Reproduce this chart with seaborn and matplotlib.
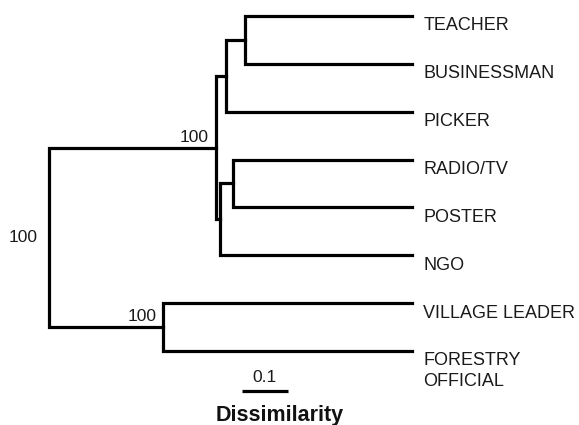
import matplotlib
matplotlib.use("Agg")
import matplotlib.pyplot as plt
import pandas as pd
import seaborn as sns

# Leaves in display order (top to bottom)
leaves = ["TEACHER", "BUSINESSMAN", "PICKER", "RADIO/TV", "POSTER", "NGO",
          "VILLAGE LEADER", "FORESTRY\nOFFICIAL"]

# Agglomeration steps: (node name, left child, right child, dissimilarity)
merge_names = ["TB", "TBP", "RP", "RPN", "ADOPT", "VF", "ROOT"]
merge_left = ["TEACHER", "TB", "RADIO/TV", "RP", "TBP", "VILLAGE LEADER", "ADOPT"]
merge_right = ["BUSINESSMAN", "PICKER", "POSTER", "NGO", "RPN", "FORESTRY\nOFFICIAL", "VF"]
merge_height = [0.363, 0.404, 0.389, 0.417, 0.426, 0.541, 0.789]

# Bootstrap support shown at selected nodes
support_nodes = ["ADOPT", "VF", "ROOT"]
support_values = [100, 100, 100]

scale_length = 0.1

sns.set_theme(style="white")
plt.rcParams["font.family"] = ["Liberation Sans", "DejaVu Sans"]

# Node positions: leaves sit at height 0, internal nodes at the mean y of children
pos = {name: (0.0, float(i)) for i, name in enumerate(leaves)}
rows = []
for name, l, r, h in zip(merge_names, merge_left, merge_right, merge_height):
    (hl, yl), (hr, yr) = pos[l], pos[r]
    for k, (x, y) in enumerate([(hl, yl), (h, yl), (h, yr), (hr, yr)]):
        rows.append({"link": name, "order": k, "x": x, "y": y})
    pos[name] = (h, (yl + yr) / 2)
links = pd.DataFrame(rows)

fig = plt.figure(figsize=(5.79, 4.25), dpi=100)
ax = fig.add_axes([0, 0, 1, 1])
sns.lineplot(data=links, x="x", y="y", units="link", estimator=None, sort=False,
             color="black", linewidth=2.3, ax=ax, legend=False)
for line in ax.lines:
    line.set_solid_joinstyle("miter")
    line.set_solid_capstyle("projecting")

ax.set_xlim(0.8957, -0.363)
ax.set_ylim(8.546, -0.334)
ax.set_axis_off()

# Leaf labels
for name in leaves:
    x, y = pos[name]
    ax.annotate(name, xy=(x, y), xytext=(8, -1), textcoords="offset points",
                ha="left", va="top", fontsize=13, color="#1a1a1a", linespacing=1.3)

# Support values
for node, val in zip(support_nodes, support_values):
    x, y = pos[node]
    if node == "ROOT":
        ax.annotate(str(val), xy=(x, y), xytext=(-8, 0), textcoords="offset points",
                    ha="right", va="center", fontsize=12.5, color="#1a1a1a")
    else:
        ax.annotate(str(val), xy=(x, y), xytext=(-5, 2), textcoords="offset points",
                    ha="right", va="bottom", fontsize=12.5, color="#1a1a1a")

# Scale bar
bar_start, bar_y = 0.37, 7.835
ax.plot([bar_start, bar_start - scale_length], [bar_y, bar_y], color="black",
        linewidth=2.3, solid_capstyle="butt")
ax.annotate(f"{scale_length:g}", xy=(bar_start - scale_length / 2, bar_y),
            xytext=(0, 4), textcoords="offset points", ha="center", va="bottom",
            fontsize=12.5, color="#1a1a1a")
ax.text(0.4836, 1 - 421 / 425, "Dissimilarity", transform=ax.transAxes,
        ha="center", va="baseline", fontsize=15.5, fontweight="bold", color="#111111")

fig.savefig("out.png", dpi=100, facecolor="white")
